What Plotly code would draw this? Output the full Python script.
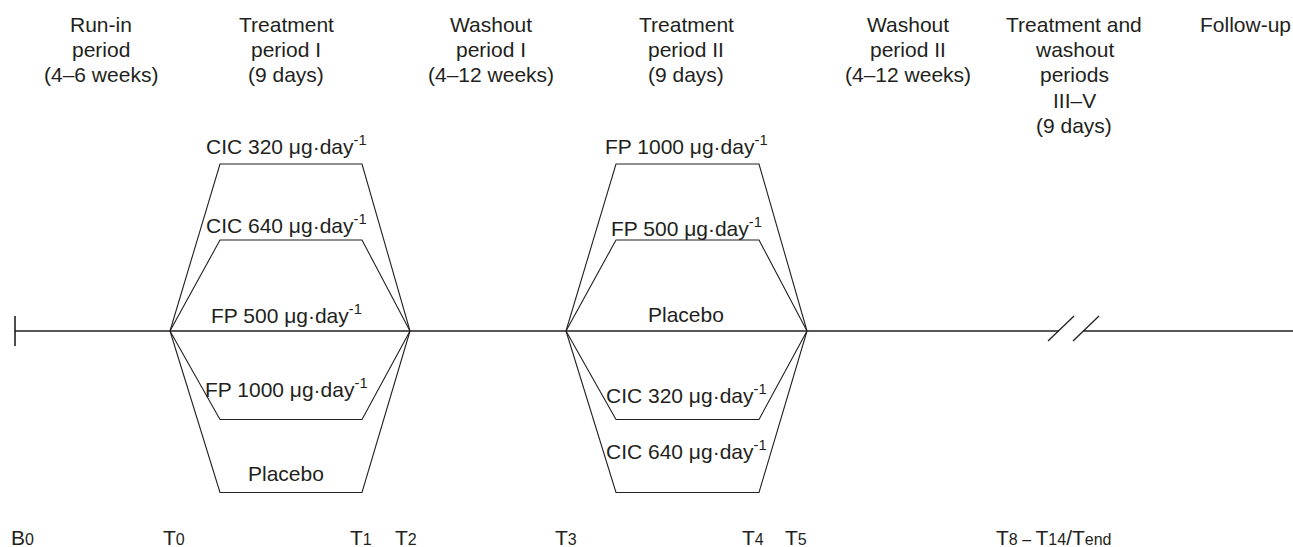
import plotly.graph_objects as go

W, H = 1293, 547
INK = "#231f20"
FONT = "Liberation Sans, Arial, Helvetica, sans-serif"
FS = 21

# ---- timeline ----
timeline_y = 331
timeline_start = 15
timeline_end = 1293
break_gap = [1059, 1083]
tick_half = 15
slash_x0 = [1048, 1073]
slash_dx = 26
slash_y = [341, 316]

# ---- treatment periods (crossover arms) ----
period_left = [170, 566]
period_right = [410, 807]
inset_left = 50
inset_right = 48
arm_levels = [164, 240, 331, 419.5, 492.5]

U = " μg·day<sup>-1</sup>"
arms_I = ["CIC 320" + U, "CIC 640" + U, "FP 500" + U, "FP 1000" + U, "Placebo"]
arms_II = ["FP 1000" + U, "FP 500" + U, "Placebo", "CIC 320" + U, "CIC 640" + U]
arm_label_x = [286, 686]
arm_label_y_I = [145, 224, 314, 388, 473]
arm_label_y_II = [145, 227, 314, 394, 450]

# ---- period headers ----
headers = [
    ["Run-in", "period", "(4–6 weeks)"],
    ["Treatment", "period I", "(9 days)"],
    ["Washout", "period I", "(4–12 weeks)"],
    ["Treatment", "period II", "(9 days)"],
    ["Washout", "period II", "(4–12 weeks)"],
    ["Treatment and", "washout", "periods", "III–V", "(9 days)"],
    ["Follow-up"],
]
header_x = [101, 286, 491, 686, 908, 1074, 1245]
header_y0 = 24
header_step = 25.4

# ---- visit labels ----
def sub(s):
    return "<span style='font-size:16px'>" + s + "</span>"

visit_labels = [
    "B" + sub("0"), "T" + sub("0"), "T" + sub("1"), "T" + sub("2"),
    "T" + sub("3"), "T" + sub("4"), "T" + sub("5"),
    "T" + sub("8 – ") + "T" + sub("14") + "/T" + sub("end"),
]
visit_x = [22.5, 174, 361, 406, 565.5, 753, 796, 1054]
visit_y = 537.5

fig = go.Figure()

def line(xs, ys, w=1.3):
    fig.add_trace(go.Scatter(x=xs, y=ys, mode="lines",
                             line=dict(color=INK, width=w),
                             hoverinfo="skip", showlegend=False))

# main timeline with break
line([timeline_start, break_gap[0]], [timeline_y, timeline_y])
line([break_gap[1], timeline_end], [timeline_y, timeline_y])
# start tick
line([timeline_start, timeline_start], [timeline_y - tick_half, timeline_y + tick_half], 1.6)
# break slashes
for sx in slash_x0:
    line([sx, sx + slash_dx], slash_y, 1.3)

# trapezoid arms
for L, R in zip(period_left, period_right):
    for lvl in arm_levels:
        if lvl == timeline_y:
            continue
        line([L, L + inset_left, R - inset_right, R],
             [timeline_y, lvl, lvl, timeline_y], 1.1)

ann = []
for arms, ly, lx in [(arms_I, arm_label_y_I, arm_label_x[0]),
                     (arms_II, arm_label_y_II, arm_label_x[1])]:
    for t, y in zip(arms, ly):
        ann.append(dict(x=lx, y=y, text=t, showarrow=False,
                        xanchor="center", yanchor="middle"))

for lines_, x in zip(headers, header_x):
    for i, t in enumerate(lines_):
        ann.append(dict(x=x, y=header_y0 + i * header_step, text=t,
                        showarrow=False, xanchor="center", yanchor="middle"))

for t, x in zip(visit_labels, visit_x):
    ann.append(dict(x=x, y=visit_y, text=t, showarrow=False,
                    xanchor="center", yanchor="middle"))

for a in ann:
    a["font"] = dict(family=FONT, size=FS, color=INK)
    a["xref"] = "x"
    a["yref"] = "y"

fig.update_layout(
    width=W, height=H,
    margin=dict(l=0, r=0, t=0, b=0),
    paper_bgcolor="white", plot_bgcolor="white",
    xaxis=dict(range=[0, W], visible=False, fixedrange=True),
    yaxis=dict(range=[H, 0], visible=False, fixedrange=True),
    annotations=ann,
)

fig.write_html(
    "out.html",
    config={"displayModeBar": False},
    post_script="document.body.style.margin='0';document.body.style.overflow='hidden';",
)
